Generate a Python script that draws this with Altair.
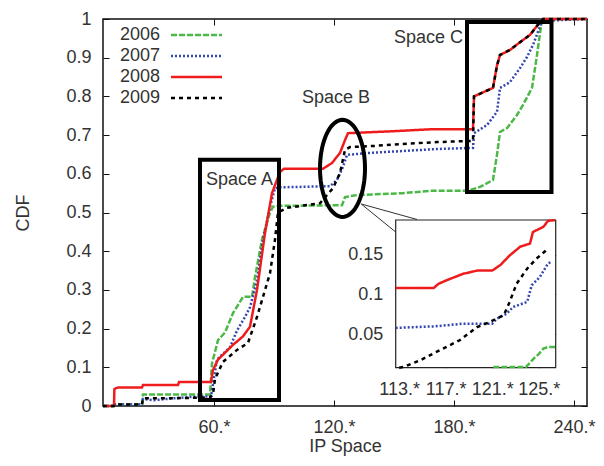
import altair as alt
import pandas as pd
import numpy as np

# ---------------- data ----------------
years = ["2006", "2007", "2008", "2009"]

u_2006 = [4.5, 10, 10.5, 24, 24.5, 40, 58, 59, 62, 65.5, 69.5, 74.5, 79, 80.5, 84, 88, 89.5, 92, 124, 125.5,
          131.5, 154.5, 168, 186.5, 188, 193, 199.5, 201.5, 203, 206.5, 211.5, 214.5, 219, 221.5, 224, 246.5]
v_2006 = [0, 0, 0.004, 0.004, 0.03, 0.03, 0.03, 0.11, 0.17, 0.19, 0.24, 0.282, 0.282, 0.333, 0.43, 0.5, 0.515, 0.517,
          0.519, 0.54, 0.545, 0.55, 0.556, 0.556, 0.558, 0.566, 0.584, 0.649, 0.708, 0.718, 0.752, 0.778, 0.822,
          0.907, 1.0, 1.0]

u_2007 = [4.5, 10, 10.5, 24, 24.5, 30, 40, 50, 58.5, 61.5, 68, 71.5, 75.5, 78, 81.5, 84.5, 88, 90.5, 93, 118, 121.5,
          124.5, 126.5, 138, 154.5, 171.5, 189.5, 190, 196.5, 201.5, 203, 208, 213, 216.5, 219.5, 224, 246.5]
v_2007 = [0, 0, 0.004, 0.004, 0.018, 0.015, 0.02, 0.024, 0.025, 0.12, 0.152, 0.195, 0.23, 0.255, 0.325, 0.43, 0.515,
          0.563, 0.565, 0.568, 0.584, 0.618, 0.649, 0.654, 0.659, 0.664, 0.667, 0.705, 0.726, 0.76, 0.822, 0.837,
          0.873, 0.902, 0.933, 0.995, 1.0]

u_2008 = [4.5, 10, 10.2, 12, 24, 24.5, 42, 42.5, 58.5, 59.5, 62, 69.5, 74.5, 78, 81.5, 85.5, 89, 93, 95, 114.5, 119,
          123, 125.5, 127, 149.5, 168, 189.5, 190, 199.5, 201.5, 203, 208, 213, 218, 223, 224.5, 246.5]
v_2008 = [0, 0, 0.044, 0.048, 0.048, 0.054, 0.054, 0.062, 0.062, 0.093, 0.12, 0.158, 0.18, 0.205, 0.30, 0.447, 0.55,
          0.605, 0.613, 0.613, 0.628, 0.654, 0.687, 0.705, 0.71, 0.715, 0.715, 0.80, 0.822, 0.88, 0.907, 0.92, 0.94,
          0.959, 0.992, 1.0, 1.0]

u_2009 = [4.5, 10, 10.5, 24, 24.5, 40, 58, 59.5, 60.5, 64.5, 71.5, 77, 81.5, 84.5, 88, 90.5, 92, 96.5, 113, 119.5,
          123, 125.5, 128, 140, 154.5, 171.5, 189.5, 190, 199.5, 201.5, 203, 208, 213, 218, 223, 224.5, 246.5]
v_2009 = [0, 0, 0.004, 0.004, 0.02, 0.02, 0.022, 0.03, 0.07, 0.114, 0.145, 0.163, 0.23, 0.282, 0.343, 0.43, 0.5,
          0.512, 0.524, 0.563, 0.602, 0.662, 0.669, 0.672, 0.677, 0.682, 0.685, 0.80, 0.822, 0.88, 0.907, 0.92,
          0.94, 0.959, 0.992, 1.0, 1.0]

# inset (zoom on Space B)
iu_2006 = [121.1, 123.9, 124.3, 124.6, 125.0, 125.4, 125.8, 126.4]
iv_2006 = [0.009, 0.009, 0.015, 0.02, 0.025, 0.032, 0.034, 0.034]
iu_2007 = [112.7, 116.1, 118.5, 121, 121.4, 122.25, 122.8, 124, 124.4, 125.1, 125.8, 126.1]
iv_2007 = [0.058, 0.060, 0.0633, 0.0633, 0.0696, 0.0759, 0.0843, 0.0906, 0.1116, 0.122, 0.139, 0.141]
iu_2008 = [112.7, 115.95, 116.4, 117.1, 118.5, 119.7, 121, 121.7, 122.5, 123.4, 124.25, 124.5, 125.4, 125.8, 126.4]
iv_2008 = [0.108, 0.108, 0.1136, 0.118, 0.126, 0.130, 0.130, 0.137, 0.149, 0.160, 0.164, 0.1785, 0.185, 0.1925, 0.1935]
iu_2009 = [113.0, 113.4, 114.8, 116.5, 118.2, 119.7, 120.8, 122, 122.5, 123.1, 124, 124.8, 125.8]
iv_2009 = [0.008, 0.009, 0.0173, 0.030, 0.0425, 0.059, 0.0655, 0.074, 0.0906, 0.1136, 0.1324, 0.145, 0.1575]

x_ticks = [60, 120, 180, 240]
x_tick_labels = ["60.*", "120.*", "180.*", "240.*"]
y_ticks = [0, 0.1, 0.2, 0.3, 0.4, 0.5, 0.6, 0.7, 0.8, 0.9, 1.0]
inset_x_ticks = [113, 117, 121, 125]
inset_x_tick_labels = ["113.*", "117.*", "121.*", "125.*"]
inset_y_ticks = [0.05, 0.1, 0.15]

# annotations (in main-plot data units)
space_labels = ["Space A", "Space B", "Space C"]
space_label_u = [72.75, 121, 167.25]
space_label_v = [0.584, 0.796, 0.952]
box_u1 = [53, 186.5]
box_u2 = [92.5, 228.75]
box_v1 = [0.0155, 0.553]
box_v2 = [0.636, 0.992]
ellipse_u = [124.25]
ellipse_v = [0.614]
conn_u1 = [133.6, 133.6]
conn_v1 = [0.522, 0.522]
conn_u2 = [161.5, 150.85]
conn_v2 = [0.482, 0.4496]

# ---------------- style / layout ----------------
colors = ["#4cb848", "#3346b0", "#ee1c1c", "#000000"]
dashes = [[6, 2], [2, 2], [1, 0], [4, 4]]
widths = [2.5, 2.5, 2.5, 1.2]
W, H = 484, 387
X_DOMAIN = [4.5, 246.5]
Y_DOMAIN = [0, 1]
IX_DOMAIN = [112.7, 126.46]
IY_DOMAIN = [0.008, 0.1936]
IX_RANGE = [292.7, 452.7]
IY_RANGE = [348.7, 201.0]
FONT = "Liberation Sans"
TXT = "#333333"


def label_expr(vals, labels):
    expr = "''"
    for v, l in zip(reversed(vals), reversed(labels)):
        expr = f"(datum.value == {v} ? '{l}' : {expr})"
    return expr


def long_df(us_list, vs_list):
    rows = []
    for yr, us, vs in zip(years, us_list, vs_list):
        for i, (a, b) in enumerate(zip(us, vs)):
            rows.append({"year": yr, "u": a, "v": b, "i": i})
    return pd.DataFrame(rows)


main_df = long_df([u_2006, u_2007, u_2008, u_2009], [v_2006, v_2007, v_2008, v_2009])
inset_df = long_df([iu_2006, iu_2007, iu_2008, iu_2009], [iv_2006, iv_2007, iv_2008, iv_2009])

mx = alt.Scale(domain=X_DOMAIN, nice=False, zero=False)
my = alt.Scale(domain=Y_DOMAIN, nice=False, zero=False)
ix = alt.Scale(domain=IX_DOMAIN, range=IX_RANGE, nice=False, zero=False)
iy = alt.Scale(domain=IY_DOMAIN, range=IY_RANGE, nice=False, zero=False)

color_enc = alt.Color("year:N", scale=alt.Scale(domain=years, range=colors), legend=None)
dash_enc = alt.StrokeDash("year:N", scale=alt.Scale(domain=years, range=dashes), legend=None)
width_enc = alt.StrokeWidth("year:O", scale=alt.Scale(domain=years, range=widths), legend=None)

# main curves with bottom/left axes (inward ticks via negative offset)
main_lines = alt.Chart(main_df).mark_line().encode(
    x=alt.X("u:Q", scale=mx, axis=alt.Axis(orient="bottom", values=x_ticks,
                                           labelExpr=label_expr(x_ticks, x_tick_labels),
                                           offset=-6, tickSize=6, labelPadding=12,
                                           title="IP Space", titlePadding=1)),
    y=alt.Y("v:Q", scale=my, axis=alt.Axis(orient="left", values=y_ticks, format=".1~f",
                                           offset=-6, tickSize=6, labelPadding=12,
                                           title="CDF", titlePadding=33)),
    color=color_enc, strokeDash=dash_enc, strokeWidth=width_enc,
    order=alt.Order("i:Q"),
)

# mirrored ticks on top/right
main_mirror = alt.Chart(main_df).mark_point(opacity=0).encode(
    x=alt.X("u:Q", scale=mx, axis=alt.Axis(orient="top", values=x_ticks, labels=False,
                                           offset=-6, tickSize=6, title=None)),
    y=alt.Y("v:Q", scale=my, axis=alt.Axis(orient="right", values=y_ticks, labels=False,
                                           offset=-6, tickSize=6, title=None)),
)

boxes_df = pd.DataFrame({"u1": box_u1, "u2": box_u2, "v1": box_v1, "v2": box_v2})
boxes = alt.Chart(boxes_df).mark_rect(fillOpacity=0, stroke="black", strokeWidth=4).encode(
    x=alt.X("u1:Q", scale=mx, axis=None), x2="u2:Q",
    y=alt.Y("v1:Q", scale=my, axis=None), y2="v2:Q",
)

labels_df = pd.DataFrame({"t": space_labels, "u": space_label_u, "v": space_label_v})
space_text = alt.Chart(labels_df).mark_text(fontSize=18, font=FONT, color=TXT,
                                            align="center", baseline="middle").encode(
    x=alt.X("u:Q", scale=mx, axis=None),
    y=alt.Y("v:Q", scale=my, axis=None),
    text="t:N",
)

# ellipse as a custom symbol path
ERX, ERY = 0.464, 1.0
theta = np.linspace(0, 2 * np.pi, 73)
ell_path = "M " + " L ".join(f"{ERX*np.cos(t):.4f} {ERY*np.sin(t):.4f}" for t in theta) + " Z"
ell_df = pd.DataFrame({"u": ellipse_u, "v": ellipse_v})
ellipse = alt.Chart(ell_df).mark_point(shape=ell_path, size=97 * 97, filled=False,
                                       stroke="black", strokeWidth=4, opacity=1).encode(
    x=alt.X("u:Q", scale=mx, axis=None),
    y=alt.Y("v:Q", scale=my, axis=None),
)

conn_df = pd.DataFrame({"u1": conn_u1, "v1": conn_v1, "u2": conn_u2, "v2": conn_v2})
connectors = alt.Chart(conn_df).mark_rule(color="#333333", strokeWidth=1).encode(
    x=alt.X("u1:Q", scale=mx, axis=None), x2="u2:Q",
    y=alt.Y("v1:Q", scale=my, axis=None), y2="v2:Q",
)

# inset
frame_df = pd.DataFrame({"u1": [IX_DOMAIN[0]], "u2": [IX_DOMAIN[1]], "v1": [IY_DOMAIN[0]], "v2": [IY_DOMAIN[1]]})
inset_frame = alt.Chart(frame_df).mark_rect(fill="white", stroke="#222222", strokeWidth=1.2).encode(
    x=alt.X("u1:Q", scale=ix, axis=None), x2="u2:Q",
    y=alt.Y("v1:Q", scale=iy, axis=None), y2="v2:Q",
)

inset_lines = alt.Chart(inset_df).mark_line().encode(
    x=alt.X("u:Q", scale=ix, axis=alt.Axis(orient="bottom", values=inset_x_ticks,
                                           labelExpr=label_expr(inset_x_ticks, inset_x_tick_labels),
                                           offset=-(H - IY_RANGE[0]) - 6, tickSize=6, labelPadding=13,
                                           title=None)),
    y=alt.Y("v:Q", scale=iy, axis=alt.Axis(orient="left", values=inset_y_ticks, format=".2~f",
                                           offset=-IX_RANGE[0] - 6, tickSize=6, labelPadding=13,
                                           title=None)),
    color=color_enc, strokeDash=dash_enc, strokeWidth=width_enc,
    order=alt.Order("i:Q"),
)

inset_mirror = alt.Chart(inset_df).mark_point(opacity=0).encode(
    x=alt.X("u:Q", scale=ix, axis=alt.Axis(orient="top", values=inset_x_ticks, labels=False,
                                           offset=-IY_RANGE[1] - 6, tickSize=6, title=None)),
    y=alt.Y("v:Q", scale=iy, axis=alt.Axis(orient="right", values=inset_y_ticks, labels=False,
                                           offset=-(W - IX_RANGE[1]) - 6, tickSize=6, title=None)),
)

# legend (gnuplot style: label, then line sample)
leg_df = pd.DataFrame({"year": years})
leg_y = alt.Y("year:N", scale=alt.Scale(type="point", domain=years, range=[16, 79], padding=0), axis=None)
leg_text = alt.Chart(leg_df).mark_text(fontSize=18, font=FONT, color=TXT, align="right",
                                       baseline="middle").encode(
    x=alt.value(57), y=leg_y, text="year:N",
)
leg_lines = alt.Chart(leg_df).mark_rule().encode(
    x=alt.value(68), x2=alt.value(119), y=leg_y,
    color=color_enc, strokeDash=dash_enc, strokeWidth=width_enc,
)

chart = alt.layer(
    main_mirror, main_lines, boxes, ellipse, connectors, space_text,
    inset_frame, inset_mirror, inset_lines, leg_lines, leg_text,
).resolve_scale(
    x="independent", y="independent"
).properties(
    width=W, height=H,
    autosize=alt.AutoSizeParams(type="none"),
    padding={"left": 95, "top": 11, "right": 9, "bottom": 52},
).configure_view(
    stroke="#111111", strokeWidth=1.5
).configure_axis(
    labelFont=FONT, labelFontSize=18, labelColor=TXT,
    titleFont=FONT, titleFontSize=18, titleColor=TXT, titleFontWeight="normal",
    tickColor="#111111", tickWidth=1, domain=False, grid=False,
)

chart.save("out.html", embed_options={"renderer": "svg", "actions": False})
